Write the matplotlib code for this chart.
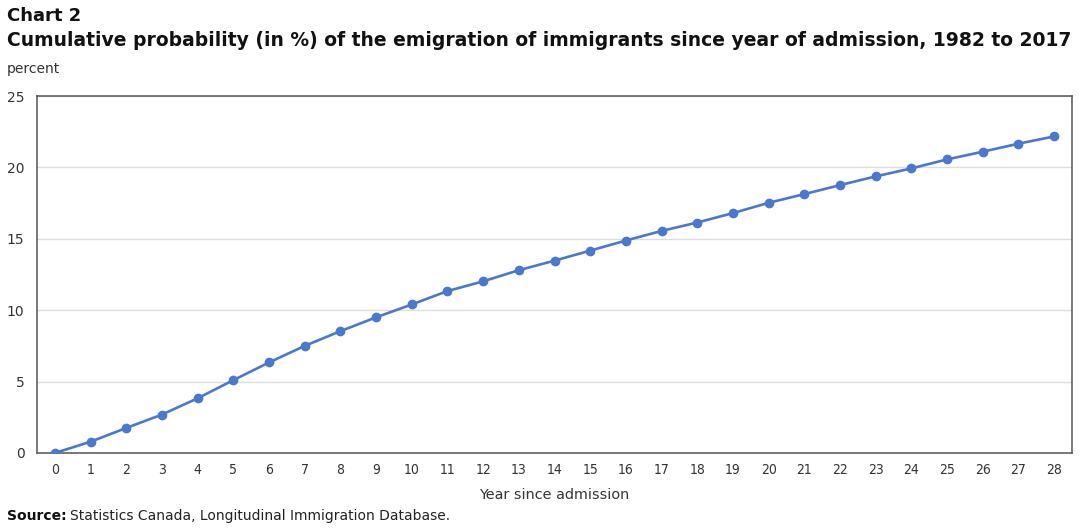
import matplotlib
matplotlib.use("Agg")
import matplotlib.pyplot as plt

years = list(range(0, 29))
values = [0.0, 0.79, 1.75, 2.69, 3.83, 5.1, 6.34, 7.5, 8.53, 9.5,
          10.4, 11.34, 12.02, 12.8, 13.47, 14.17, 14.88, 15.55, 16.14, 16.8,
          17.52, 18.13, 18.76, 19.37, 19.93, 20.56, 21.1, 21.66, 22.17]
y_ticks = [0, 5, 10, 15, 20, 25]

title1 = "Chart 2"
title2 = "Cumulative probability (in %) of the emigration of immigrants since year of admission, 1982 to 2017"
y_unit = "percent"
x_label = "Year since admission"

plt.rcParams['font.family'] = ['DejaVu Sans']
fig = plt.figure(figsize=(10.8, 5.29), dpi=100)
ax = fig.add_axes([37/1080, 1-453/529, (1072-37)/1080, (453-96)/529])

ax.plot(years, values, color='#4a78cf', linewidth=1.9, marker='o', markersize=6, zorder=3)
ax.set_xlim(-0.5, 28.5)
ax.set_ylim(0, 25)
ax.set_xticks(years)
ax.set_xticklabels([str(y) for y in years], fontsize=10, color='#333333', fontstretch='condensed')
ax.set_yticks(y_ticks)
ax.set_yticklabels([str(v) for v in y_ticks], fontsize=10, color='#333333')
ax.tick_params(axis='both', length=0)
ax.tick_params(axis='x', pad=7)
ax.tick_params(axis='y', pad=9)
ax.grid(axis='y', color='#dddddd', linewidth=1)
ax.set_axisbelow(True)
for s in ax.spines.values():
    s.set_color('#555555')
    s.set_linewidth(1.1)
ax.set_xlabel(x_label, fontsize=10.4, color='#333333', labelpad=8)

fig.text(7/1080, 1-16/529, title1, fontsize=13, fontweight='bold', va='center', ha='left', color='#111111')
fig.text(7/1080, 1-40/529, title2, fontsize=13.5, fontweight='bold', va='center', ha='left', color='#111111')
fig.text(7/1080, 1-69/529, y_unit, fontsize=10, va='center', ha='left', color='#333333')
fig.text(7/1080, 1-516/529, "Source:", fontsize=10, fontweight='bold', va='center', ha='left', color='#111111')
fig.text(70/1080, 1-516/529, "Statistics Canada, Longitudinal Immigration Database.", fontsize=10, va='center', ha='left', color='#222222')

fig.savefig('out.png', dpi=100)
